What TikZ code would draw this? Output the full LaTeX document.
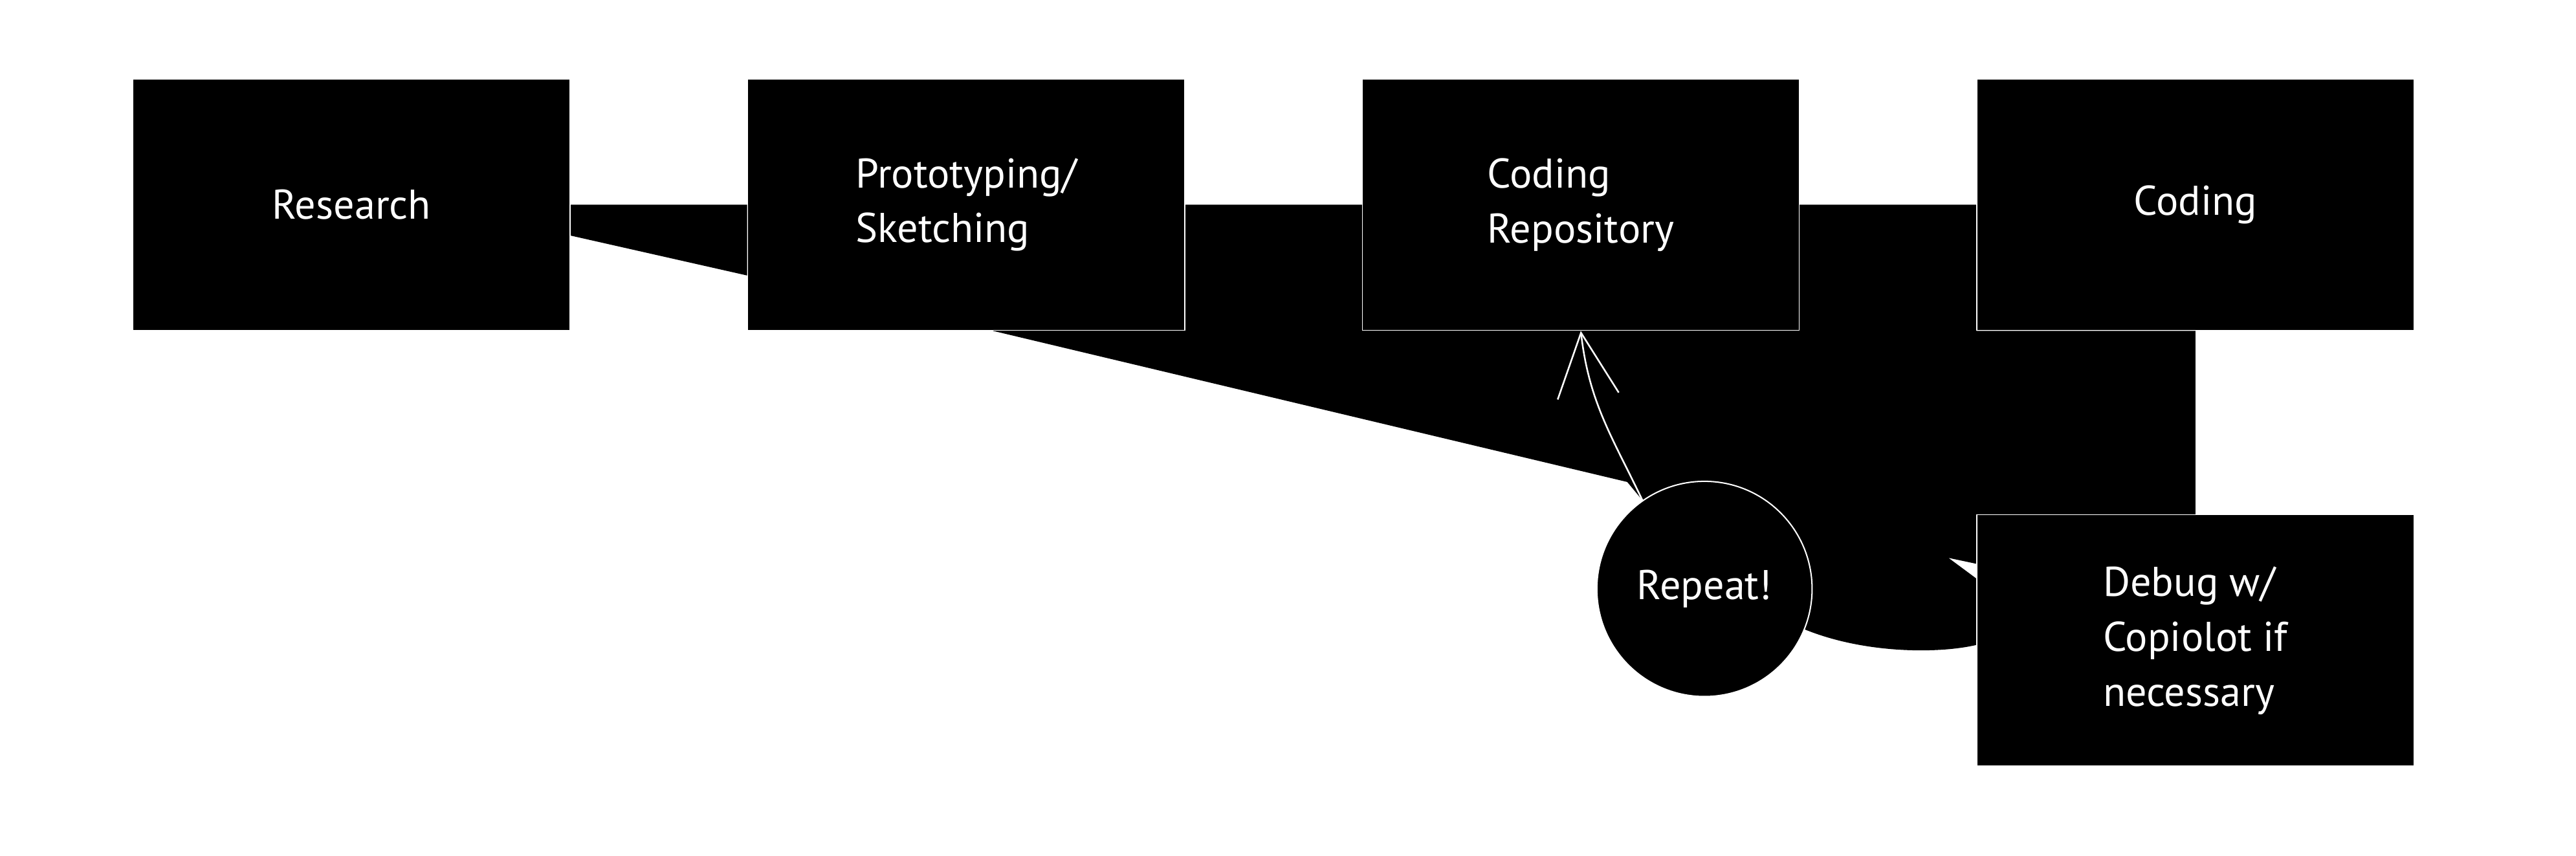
\documentclass[tikz,border=0pt]{standalone}
\usepackage{fontspec}
\setmainfont{PT Sans}
\usetikzlibrary{positioning, arrows.meta, backgrounds}

\begin{document}
\begin{tikzpicture}[
        x=0.5mm, y=-0.5mm,
        node distance=55.85mm and 53.75mm,
        box/.style={rectangle, draw=white, line width=0.3mm, fill=black, text=white, minimum width=133mm, minimum height=76.5mm, align=left, font=\fontsize{36}{47.5}\selectfont},
        loopnode/.style={circle, draw=white, line width=0.4mm, fill=black, text=white, minimum size=65.5mm, inner sep=0pt, font=\fontsize{36}{47.5}\selectfont},
        arrow/.style={draw=white, line width=0.5mm, -{Straight Barb[length=19.4mm, width=18.7mm]}},
        link/.style={fill=black}
        ]
        \useasboundingbox (0,0) rectangle (1568,521);

        \node[box] (research) at (214,124.6) {Research};
        \node[box, right=of research] (proto) {Prototyping/\\Sketching};
        \node[box, right=of proto] (crepo) {Coding\\Repository};
        \node[box, right=of crepo] (coding) {Coding};
        \node[box, below=of coding] (debug) {Debug w/\\Copiolot if\\necessary};
        \node[loopnode] (repeat) at (1037.5,358.5) {Repeat!};

        % filled connector shapes behind the nodes
        \begin{scope}[on background layer]
        \fill[link] (research.east) -- (proto.west) -- ([yshift=-21.55mm]proto.west) -- ([yshift=-9.4mm]research.east) -- cycle;
        \fill[link] (proto.east) -- (coding.west) -- (coding.south west) -- (coding.south) -- (debug.north) -- (debug.north west)
            -- ([yshift=23.35mm]debug.west) -- ([xshift=-8.5mm, yshift=25.15mm]debug.west) -- ([yshift=18.85mm]debug.west)
            -- ([yshift=-1.35mm]debug.west) .. controls (1180,398) and (1135,398) .. (repeat.-22)
            -- (repeat.125) -- (990.5,293.4) -- ([xshift=8.15mm]proto.south) -- cycle;
        \end{scope}

        \draw[arrow] (repeat.125) .. controls (981.5,266.2) and (967.2,245.2) .. (crepo.south);
    \end{tikzpicture}
\end{document}
